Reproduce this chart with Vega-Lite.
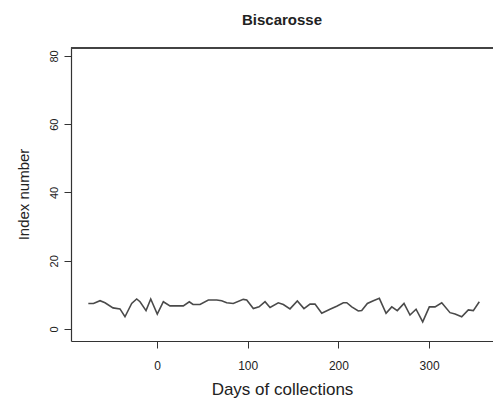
{
  "$schema": "https://vega.github.io/schema/vega-lite/v6.json",
  "width": 422,
  "height": 294,
  "autosize": {"type": "none"},
  "padding": {"left": 71, "top": 47, "right": 0, "bottom": 57},
  "background": "white",
  "view": {"stroke": null},
  "title": {
    "text": "Biscarosse",
    "font": "Liberation Sans",
    "fontSize": 15,
    "fontWeight": "bold",
    "color": "#222222",
    "anchor": "middle",
    "offset": 19
  },
  "data": {
    "values": [
      {"day": -75.7, "index": 7.5},
      {"day": -70, "index": 7.5},
      {"day": -62.8, "index": 8.3},
      {"day": -57.3, "index": 7.7},
      {"day": -48.5, "index": 6.2},
      {"day": -40.8, "index": 5.9},
      {"day": -35.3, "index": 3.6},
      {"day": -27.9, "index": 7.5},
      {"day": -22.4, "index": 8.8},
      {"day": -18.7, "index": 8.0},
      {"day": -12.1, "index": 5.4},
      {"day": -6.9, "index": 8.8},
      {"day": 0.3, "index": 4.4},
      {"day": 7, "index": 8.0},
      {"day": 14.3, "index": 6.8},
      {"day": 21.7, "index": 6.8},
      {"day": 29, "index": 6.8},
      {"day": 35.6, "index": 8.0},
      {"day": 39.7, "index": 7.2},
      {"day": 47.4, "index": 7.2},
      {"day": 56.6, "index": 8.5},
      {"day": 65.8, "index": 8.5},
      {"day": 71.3, "index": 8.3},
      {"day": 76.8, "index": 7.7},
      {"day": 84.1, "index": 7.5},
      {"day": 95.1, "index": 8.7},
      {"day": 98.9, "index": 8.5},
      {"day": 106.2, "index": 6.0},
      {"day": 112.5, "index": 6.5},
      {"day": 119.1, "index": 8.0},
      {"day": 124.6, "index": 6.3},
      {"day": 133.7, "index": 7.7},
      {"day": 139.3, "index": 7.2},
      {"day": 146.6, "index": 5.9},
      {"day": 154.7, "index": 8.2},
      {"day": 162, "index": 6.0},
      {"day": 168.7, "index": 7.3},
      {"day": 174.2, "index": 7.3},
      {"day": 181.6, "index": 4.6},
      {"day": 190.7, "index": 5.8},
      {"day": 198.1, "index": 6.7},
      {"day": 205.4, "index": 7.7},
      {"day": 209.2, "index": 7.7},
      {"day": 214.7, "index": 6.5},
      {"day": 221.9, "index": 5.3},
      {"day": 225.7, "index": 5.4},
      {"day": 231.9, "index": 7.5},
      {"day": 238.5, "index": 8.3},
      {"day": 245.1, "index": 9.0},
      {"day": 252.5, "index": 4.6},
      {"day": 258.8, "index": 6.5},
      {"day": 264.9, "index": 5.4},
      {"day": 272.3, "index": 7.5},
      {"day": 278.9, "index": 4.1},
      {"day": 285.6, "index": 5.8},
      {"day": 292.9, "index": 2.1},
      {"day": 300.2, "index": 6.5},
      {"day": 306.5, "index": 6.5},
      {"day": 313.9, "index": 7.7},
      {"day": 323, "index": 4.8},
      {"day": 328.6, "index": 4.4},
      {"day": 335.9, "index": 3.6},
      {"day": 343.2, "index": 5.6},
      {"day": 348.7, "index": 5.4},
      {"day": 355.3, "index": 8.0}
    ]
  },
  "layer": [
    {
      "mark": {"type": "line", "color": "#4a4a4a", "strokeWidth": 1.6},
      "encoding": {
        "x": {
          "field": "day",
          "type": "quantitative",
          "scale": {"domain": [-94.8, 370.4], "nice": false, "zero": false},
          "axis": {
            "title": "Days of collections",
            "values": [0, 100, 200, 300],
            "grid": false,
            "domainColor": "#333333",
            "domainWidth": 1.2,
            "tickColor": "#333333",
            "tickSize": 7,
            "labelFont": "Liberation Sans",
            "labelFontSize": 12,
            "labelColor": "#222222",
            "labelPadding": 12,
            "titleFont": "Liberation Sans",
            "titleFontSize": 17,
            "titleFontWeight": "normal",
            "titleColor": "#222222",
            "titlePadding": 10
          }
        },
        "y": {
          "field": "index",
          "type": "quantitative",
          "scale": {"domain": [-3.5, 82.6], "nice": false, "zero": false},
          "axis": {
            "title": "Index number",
            "values": [0, 20, 40, 60, 80],
            "grid": false,
            "domainColor": "#333333",
            "domainWidth": 1.2,
            "tickColor": "#333333",
            "tickSize": 7,
            "labelFont": "Liberation Sans",
            "labelFontSize": 11,
            "labelColor": "#222222",
            "labelAngle": -90,
            "labelAlign": "center",
            "labelBaseline": "bottom",
            "labelPadding": 5,
            "titleFont": "Liberation Sans",
            "titleFontSize": 15,
            "titleFontWeight": "normal",
            "titleColor": "#222222",
            "titlePadding": 17
          }
        }
      }
    },
    {
      "mark": {"type": "rule", "color": "#444444", "strokeWidth": 1},
      "encoding": {
        "y": {"datum": 82.3, "type": "quantitative"}
      }
    }
  ]
}
